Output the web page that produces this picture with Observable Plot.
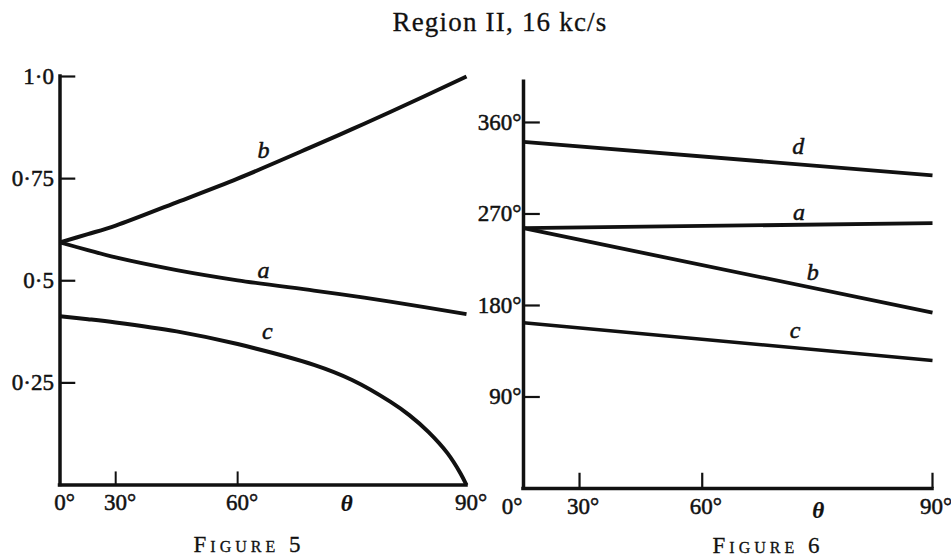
<!DOCTYPE html>
<html>
<head>
<meta charset="utf-8">
<script src="https://cdn.jsdelivr.net/npm/d3@7"></script>
<script src="https://cdn.jsdelivr.net/npm/@observablehq/plot@0.6"></script>
<style>
  body { margin: 0; background: #fff; }
  #page { position: relative; width: 951px; height: 557px; overflow: hidden; font-family: "Liberation Serif", "DejaVu Serif", serif; color: #111; background: #fff; }
  #title { position: absolute; left: 300px; width: 400px; top: 9px; text-align: center; font-size: 27px; line-height: 1; letter-spacing: 1.2px; -webkit-text-stroke: 0.3px #111; }
  .cap { position: absolute; width: 240px; text-align: center; font-size: 23px; line-height: 1; font-variant: small-caps; letter-spacing: 4px; -webkit-text-stroke: 0.3px #111; }
  #cap5 { left: 129px; top: 533px; }
  #cap6 { left: 648px; top: 534px; }
  #fig5 { position: absolute; left: 0; top: 50px; }
  #fig6 { position: absolute; left: 480px; top: 50px; }
  svg { overflow: visible; display: block; }
</style>
</head>
<body>
<div id="page">
  <div id="title">Region II, 16 kc/s</div>
  <div id="fig5"></div>
  <div id="fig6"></div>
  <div class="cap" id="cap5">Figure 5</div>
  <div class="cap" id="cap6">Figure 6</div>
</div>
<script>
// ---------- data ----------
// x axis: angle θ in degrees; the printed axis is not evenly divided (piecewise)
const thetaBreaks = [0, 30, 60, 90];
const thetaBreakFrac = [0, 0.137, 0.437, 1];

// Figure 5
const theta5 = [0, 15, 30, 45, 60, 70, 75, 80, 90];
const fig5A = [0.594, 0.575, 0.557, 0.526, 0.501, 0.476, 0.463, 0.449, 0.418];
const fig5B = [0.594, 0.614, 0.635, 0.692, 0.750, 0.830, 0.871, 0.913, 1.0];
const theta5C = [0, 15, 30, 45, 60, 70, 75, 80, 82.5, 85, 87.5, 89.2, 90];
const fig5C = [0.413, 0.406, 0.398, 0.376, 0.345, 0.294, 0.257, 0.204, 0.171, 0.130, 0.078, 0.029, 0];
const yTicks5 = [0.25, 0.5, 0.75, 1.0];
const yLabels5 = ["0·25", "0·5", "0·75", "1·0"];
const xTicks5 = [30, 60];
const xLabels = [0, 30, 60, 90];
const curveLabels5 = [
  {name: "b", t: 63.4, v: 0.819},
  {name: "a", t: 63.4, v: 0.525},
  {name: "c", t: 63.9, v: 0.376}
];

// Figure 6 (degrees)
const theta6 = [0, 90];
const fig6D = [341, 308];
const fig6A = [256, 261];
const fig6B = [256, 173];
const fig6C = [163, 126];
const yTicks6 = [90, 180, 270, 360];
const xTicks6 = [30, 60, 90];
const curveLabels6 = [
  {name: "d", t: 72.5, v: 337},
  {name: "a", t: 72.6, v: 271.5},
  {name: "b", t: 74.4, v: 212.5},
  {name: "c", t: 72.1, v: 155.4}
];

// ---------- helpers ----------
const ink = "#111";
const series = (ts, vs) => ts.map((t, i) => ({t, v: vs[i]}));
const fontFamily = '"Liberation Serif", "DejaVu Serif", serif';
const thetaToFrac = d3.scaleLinear().domain(thetaBreaks).range(thetaBreakFrac);
const labelStyle = {fontSize: 23, fill: ink, stroke: ink, strokeWidth: 0.5};

// ---------- Figure 5 ----------
{
  const W = 480, H = 480, ml = 59.5, mr = 14;
  const chart = Plot.plot({
    width: W, height: H,
    marginLeft: ml, marginRight: mr, marginTop: 26, marginBottom: 45.5,
    style: {fontFamily, fontSize: "22px", background: "transparent", color: ink, overflow: "visible"},
    x: {domain: [0, 1], transform: thetaToFrac, axis: null},
    y: {domain: [0, 1], axis: null},
    marks: [
      Plot.ruleX([0], {y1: 0, y2: 1, stroke: ink, strokeWidth: 3.5, strokeLinecap: "square"}),
      Plot.ruleY([0], {x1: 0, x2: 90, stroke: ink, strokeWidth: 3.5, strokeLinecap: "square"}),
      Plot.ruleY(yTicks5, {x1: 0, x2: 8.5, stroke: ink, strokeWidth: 2.2}),
      Plot.ruleX(xTicks5, {y1: 0, y2: 0.032, stroke: ink, strokeWidth: 2}),
      Plot.line(series(theta5, fig5B), {x: "t", y: "v", stroke: ink, strokeWidth: 4, curve: "catmull-rom", strokeLinecap: "butt"}),
      Plot.line(series(theta5, fig5A), {x: "t", y: "v", stroke: ink, strokeWidth: 3.8, curve: "catmull-rom", strokeLinecap: "butt"}),
      Plot.line(series(theta5C, fig5C), {x: "t", y: "v", stroke: ink, strokeWidth: 4, curve: "catmull-rom", strokeLinecap: "butt"}),
      Plot.text(yTicks5.map((v, i) => ({v, label: yLabels5[i]})), {x: 0, y: "v", text: "label", textAnchor: "end", dx: -6, ...labelStyle}),
      Plot.text(xLabels, {x: d => d, y: 0, text: d => d + "°", dy: 18, dx: 4.5, ...labelStyle}),
      Plot.text(["θ"], {x: () => 74.3, y: 0, text: d => d, dy: 19, fontStyle: "italic", fontWeight: "bold", ...labelStyle, strokeWidth: 0.2}),
      Plot.text(curveLabels5, {x: "t", y: "v", text: "name", fontStyle: "italic", ...labelStyle, fontSize: 24})
    ]
  });
  document.getElementById("fig5").appendChild(chart);
}

// ---------- Figure 6 ----------
{
  const W = 471, H = 480, ml = 43, mr = 19;
  const chart = Plot.plot({
    width: W, height: H,
    marginLeft: ml, marginRight: mr, marginTop: 31.3, marginBottom: 42,
    style: {fontFamily, fontSize: "22px", background: "transparent", color: ink, overflow: "visible"},
    x: {domain: [0, 1], transform: thetaToFrac, axis: null},
    y: {domain: [0, 400], axis: null},
    marks: [
      Plot.ruleX([0], {y1: 0, y2: 400, stroke: ink, strokeWidth: 3.5, strokeLinecap: "square"}),
      Plot.ruleY([0], {x1: 0, x2: 90, stroke: ink, strokeWidth: 3.5, strokeLinecap: "square"}),
      Plot.ruleY(yTicks6, {x1: 0, x2: 9, stroke: ink, strokeWidth: 2.2}),
      Plot.ruleX(xTicks6, {y1: 0, y2: 15, stroke: ink, strokeWidth: 2.2}),
      Plot.line(series(theta6, fig6D), {x: "t", y: "v", stroke: ink, strokeWidth: 3.8, strokeLinecap: "butt"}),
      Plot.line(series(theta6, fig6A), {x: "t", y: "v", stroke: ink, strokeWidth: 3.8, strokeLinecap: "butt"}),
      Plot.line(series(theta6, fig6B), {x: "t", y: "v", stroke: ink, strokeWidth: 3.8, strokeLinecap: "butt"}),
      Plot.line(series(theta6, fig6C), {x: "t", y: "v", stroke: ink, strokeWidth: 3.5, strokeLinecap: "butt"}),
      Plot.text(yTicks6, {x: 0, y: d => d, text: d => d + "°", textAnchor: "end", dx: -2, ...labelStyle}),
      Plot.text(xLabels.filter(d => d !== 0), {x: d => d, y: 0, text: d => d + "°", dy: 18, dx: 3.5, ...labelStyle}),
      Plot.text(xLabels.filter(d => d === 0), {x: d => d, y: 0, text: d => d + "°", dy: 18, dx: -1, textAnchor: "end", ...labelStyle}),
      Plot.text(["θ"], {x: () => 75.1, y: 0, text: d => d, dy: 22, fontStyle: "italic", fontWeight: "bold", ...labelStyle, strokeWidth: 0.2}),
      Plot.text(curveLabels6, {x: "t", y: "v", text: "name", fontStyle: "italic", ...labelStyle, fontSize: 24})
    ]
  });
  document.getElementById("fig6").appendChild(chart);
}
</script>
</body>
</html>
